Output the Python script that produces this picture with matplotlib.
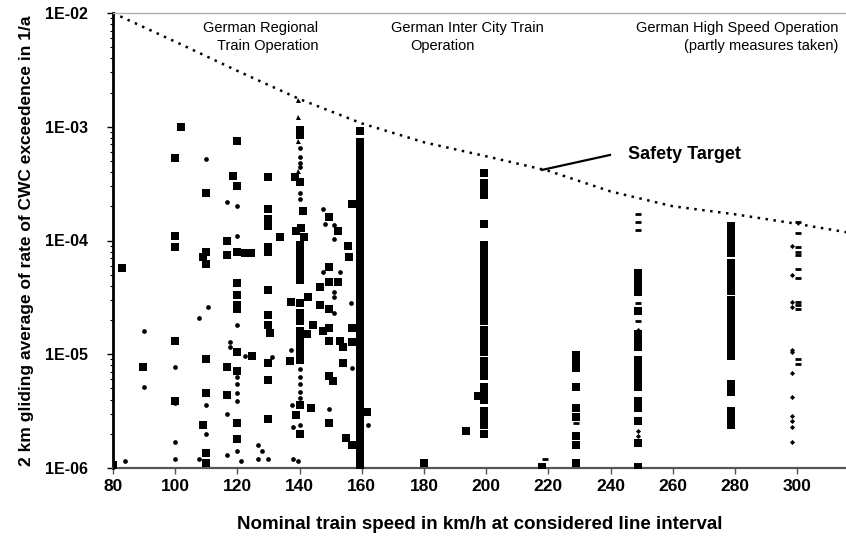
import matplotlib
matplotlib.use("Agg")
import matplotlib.pyplot as plt
from matplotlib import font_manager

# ---------------- data ----------------
target_speed = [80, 100, 120, 140, 160, 180, 200, 220, 240, 260, 280, 300, 316]
target_rate = [1.0e-2, 5.6e-3, 3.1e-3, 1.75e-3, 1.07e-3, 7.3e-4, 5.5e-4, 4.1e-4,
               2.7e-4, 2.0e-4, 1.7e-4, 1.4e-4, 1.18e-4]

# squares (regional lines)
sq_speed = [80, 83, 89.6, 100, 102, 100, 100, 100, 100,
            110, 110, 109, 110, 110, 110, 109, 110, 110,
            120, 118.5, 120, 116.7, 116.7, 120, 122.4, 124.5, 120, 120, 120, 120, 120,
            116.7, 120, 116.7, 120, 120,
            130, 130, 130, 130, 130, 130, 133.7, 130, 130, 130, 130.5, 124.7, 130, 130, 130,
            140, 140, 138.5, 140, 141.1, 138.8, 140.5, 141.5, 140, 140, 140, 140, 140, 140,
            137.2, 142.7, 140, 140, 140, 140, 142.5, 140, 140, 140, 140, 137, 140, 143.7, 139, 140,
            149.5, 152.5, 155.6, 156, 149.5, 146.6, 149.5, 152.5, 146.6, 149.5, 144.3, 147.5,
            149.5, 149.5, 153, 154, 154, 149.5, 150.8, 149.5, 154.8, 156.7, 157, 157, 157, 161.7]
sq_rate = [1.06e-6, 5.7e-5, 7.7e-6, 5.3e-4, 1.0e-3, 1.1e-4, 8.7e-5, 1.3e-5, 3.9e-6,
           2.6e-4, 8.0e-5, 7.2e-5, 6.2e-5, 9.0e-6, 4.6e-6, 2.4e-6, 1.35e-6, 1.1e-6,
           7.5e-4, 3.7e-4, 3.0e-4, 1.0e-4, 7.4e-5, 8.0e-5, 7.7e-5, 7.7e-5, 4.2e-5, 3.35e-5, 2.7e-5, 2.5e-5, 1.04e-5,
           7.7e-6, 7.1e-6, 4.4e-6, 2.5e-6, 1.8e-6,
           3.6e-4, 1.9e-4, 1.55e-4, 1.35e-4, 8.7e-5, 8.0e-5, 1.08e-4, 3.7e-5, 2.2e-5, 1.8e-5, 1.55e-5, 9.6e-6, 8.3e-6, 5.9e-6, 2.7e-6,
           9.4e-4, 8.5e-4, 3.6e-4, 3.3e-4, 1.8e-4, 1.2e-4, 1.3e-4, 1.07e-4, 9.2e-5, 8.0e-5, 6.9e-5, 6.0e-5, 5.2e-5, 4.5e-5,
           2.9e-5, 3.2e-5, 2.85e-5, 2.3e-5, 1.95e-5, 1.6e-5, 1.5e-5, 1.35e-5, 1.17e-5, 1.0e-5, 8.9e-6, 8.7e-6, 3.6e-6, 3.4e-6, 2.95e-6, 2.0e-6,
           1.6e-4, 1.2e-4, 8.9e-5, 7.2e-5, 5.9e-5, 3.9e-5, 4.3e-5, 4.3e-5, 2.7e-5, 2.5e-5, 1.8e-5, 1.6e-5,
           1.7e-5, 1.3e-5, 1.3e-5, 1.15e-5, 8.3e-6, 6.5e-6, 5.8e-6, 2.5e-6, 1.85e-6, 1.6e-6, 2.1e-4, 1.7e-5, 1.28e-5, 3.1e-6]

# dots (regional lines)
dot_speed = [84, 90, 90, 100, 100, 100, 100, 110, 110.5, 107.6, 110, 110, 107.6,
             116.7, 120, 120, 120, 117.5, 117.5, 122.5, 120, 120, 120, 120, 116.7, 116.7, 120, 121,
             131, 126.6, 127.8, 126.6, 130,
             140, 140, 140, 140, 140, 140, 137.2, 140, 140, 140, 140, 140, 137.5, 140, 138, 138, 139.5,
             147.5, 148.3, 151, 151, 147.5, 153, 151, 151, 151, 156.5, 149.5, 162, 157]
dot_rate = [1.15e-6, 1.6e-5, 5.2e-6, 7.7e-6, 3.7e-6, 1.7e-6, 1.2e-6, 5.2e-4, 2.6e-5, 2.1e-5, 3.6e-6, 2.0e-6, 1.2e-6,
            2.2e-4, 2.0e-4, 1.1e-4, 1.8e-5, 1.27e-5, 1.15e-5, 9.6e-6, 6.3e-6, 5.5e-6, 4.6e-6, 3.9e-6, 3.0e-6, 1.3e-6, 1.4e-6, 1.15e-6,
            9.4e-6, 1.6e-6, 1.4e-6, 1.2e-6, 1.2e-6,
            6.5e-4, 5.4e-4, 4.8e-4, 4.4e-4, 2.6e-4, 2.3e-4, 1.08e-5, 7.4e-6, 6.3e-6, 5.5e-6, 4.7e-6, 4.1e-6, 3.6e-6, 2.4e-6, 2.3e-6, 1.2e-6, 1.15e-6,
            1.9e-4, 1.4e-4, 1.38e-4, 1.04e-4, 5.3e-5, 5.3e-5, 3.5e-5, 3.2e-5, 2.3e-5, 2.8e-5, 3.3e-6, 2.4e-6, 7.5e-6]

# triangles (regional lines)
tri_speed = [139.5, 139.5, 139.5, 139.5]
tri_rate = [1.72e-3, 1.22e-3, 7.5e-4, 4.1e-4]

# dense measurement runs (160, 200, 220, 230, 250, 280 km/h)
col_speed = [159.4] * 49 + [199.3] * 31 + [197.5, 218, 180, 193.5] + [228.9] * 9 + [248.8] * 18 + [278.7] * 24
col_rate = [9.2e-4, 7.4e-4, 6.4e-4, 5.6e-4, 4.8e-4, 4.2e-4, 3.6e-4, 3.2e-4, 2.9e-4, 2.6e-4,
            2.3e-4, 2.0e-4, 1.7e-4, 1.5e-4, 1.3e-4, 1.1e-4, 9.8e-5, 8.5e-5, 7.4e-5, 6.4e-5,
            5.6e-5, 4.8e-5, 4.2e-5, 3.6e-5, 3.2e-5, 2.7e-5, 2.3e-5, 2.0e-5, 1.75e-5, 1.5e-5,
            1.3e-5, 1.15e-5, 1.0e-5, 8.7e-6, 7.5e-6, 6.5e-6, 5.7e-6, 4.9e-6, 4.3e-6, 3.7e-6,
            3.2e-6, 2.8e-6, 2.4e-6, 2.1e-6, 1.8e-6, 1.6e-6, 1.4e-6, 1.2e-6, 1.06e-6,
            3.9e-4, 3.2e-4, 2.8e-4, 2.5e-4, 1.4e-4, 9.2e-5, 8.0e-5, 6.9e-5, 6.0e-5, 5.2e-5,
            4.5e-5, 3.9e-5, 3.4e-5, 3.0e-5, 2.6e-5, 2.2e-5, 1.95e-5, 1.65e-5, 1.4e-5, 1.2e-5,
            1.05e-5, 8.7e-6, 7.5e-6, 6.5e-6, 5.2e-6, 4.5e-6, 4.0e-6, 3.2e-6, 2.7e-6, 2.4e-6, 2.0e-6,
            4.3e-6, 1.02e-6, 1.1e-6, 2.1e-6,
            9.8e-6, 8.7e-6, 7.5e-6, 5.2e-6, 3.4e-6, 2.8e-6, 1.9e-6, 1.6e-6, 1.1e-6,
            5.2e-5, 4.5e-5, 3.9e-5, 3.5e-5, 2.4e-5, 1.5e-5, 1.3e-5, 1.15e-5, 8.9e-6, 7.7e-6,
            6.9e-6, 5.9e-6, 5.2e-6, 3.9e-6, 3.4e-6, 2.6e-6, 1.02e-6, 1.65e-6,
            1.33e-4, 1.17e-4, 1.03e-4, 9.0e-5, 7.8e-5, 6.4e-5, 5.6e-5, 4.8e-5, 4.2e-5, 3.6e-5,
            3.0e-5, 2.6e-5, 2.2e-5, 1.95e-5, 1.7e-5, 1.45e-5, 1.25e-5, 1.1e-5, 9.6e-6, 5.5e-6,
            4.7e-6, 3.2e-6, 2.8e-6, 2.4e-6]

# dashes (high speed lines)
dash_speed = [248.8, 248.8, 248.8, 248.8, 248.8, 219,
              300.3, 300.3, 300.3, 300.3, 300.3, 300.3, 300.3, 300.3, 300.3, 300.3, 300.3, 300.3, 228.9]
dash_rate = [1.7e-4, 1.45e-4, 1.24e-4, 2.8e-5, 1.95e-5, 1.2e-6,
             1.45e-4, 1.17e-4, 8.7e-5, 8.0e-5, 7.4e-5, 5.6e-5, 4.7e-5, 2.9e-5, 2.7e-5, 2.5e-5, 9.0e-6, 8.2e-6, 2.5e-6]

# small diamonds (high speed lines)
dia_speed = [298.3] * 12 + [248.8, 248.8, 248.8]
dia_rate = [8.9e-5, 5.0e-5, 2.9e-5, 2.6e-5, 1.1e-5, 6.9e-6, 4.2e-6, 2.85e-6, 2.6e-6, 2.3e-6, 1.7e-6, 1.05e-5,
            1.65e-5, 2.1e-6, 1.9e-6]

x_ticks = [80, 100, 120, 140, 160, 180, 200, 220, 240, 260, 280, 300]
y_ticks = [1e-6, 1e-5, 1e-4, 1e-3, 1e-2]
y_tick_labels = ["1E-06", "1E-05", "1E-04", "1E-03", "1E-02"]

# ---------------- figure ----------------
names = {f.name for f in font_manager.fontManager.ttflist}
narrow = "Liberation Sans Narrow" if "Liberation Sans Narrow" in names else "Liberation Sans"

fig = plt.figure(figsize=(8.46, 5.42), dpi=100)
ax = fig.add_axes([113 / 846, 74 / 542, 733 / 846, 455 / 542])
ax.set_yscale("log")
ax.set_xlim(80, 315.7)
ax.set_ylim(1e-6, 1e-2)

ax.plot(target_speed, target_rate, color="black", lw=1.8, ls=(0, (1, 2.2)), zorder=2, clip_on=False)

ax.plot(sq_speed, sq_rate, ls="none", marker="s", ms=5.2, color="black", mew=0, zorder=3)
ax.plot(col_speed, col_rate, ls="none", marker="s", ms=5.3, color="black", mew=0, zorder=3)
ax.plot(dot_speed, dot_rate, ls="none", marker="o", ms=3.4, color="black", mew=0, zorder=3)
ax.plot(tri_speed, tri_rate, ls="none", marker="^", ms=3.6, color="black", mew=0, zorder=3)
ax.plot(dash_speed, dash_rate, ls="none", marker="_", ms=5, color="black", mew=2, zorder=3)
ax.plot(dia_speed, dia_rate, ls="none", marker="D", ms=2.6, color="black", mew=0, zorder=3)

ax.spines["right"].set_visible(False)
ax.spines["left"].set_linewidth(2.0)
ax.spines["left"].set_color("black")
ax.spines["bottom"].set_linewidth(1.6)
ax.spines["bottom"].set_color("#555555")
ax.spines["top"].set_linewidth(1.0)
ax.spines["top"].set_color("#b0b0b0")

ax.set_xticks(x_ticks)
ax.set_xticklabels([str(v) for v in x_ticks], fontfamily=narrow, fontweight="bold", fontsize=12.5)
ax.set_yticks(y_ticks)
ax.set_yticklabels(y_tick_labels, fontfamily="Liberation Sans", fontweight="bold", fontsize=11.5)
ax.tick_params(axis="x", direction="out", length=4, width=1, color="#555555", pad=4)
ax.tick_params(axis="y", which="major", direction="out", length=4, width=1, pad=14)
ax.tick_params(axis="y", which="minor", direction="out", length=2.5, width=0.8)

ax.set_xlabel("Nominal train speed in km/h at considered line interval",
              fontfamily=narrow, fontweight="bold", fontsize=13.5, labelpad=16)
ax.set_ylabel("2 km gliding average of rate of CWC exceedence in 1/a",
              fontfamily="Liberation Sans", fontweight="bold", fontsize=12.5, labelpad=8)

tkw = dict(transform=ax.transAxes, fontfamily="Liberation Sans", fontsize=10.5, color="black", va="center")
ax.text(0.28, 0.967, "German Regional", ha="right", **tkw)
ax.text(0.28, 0.927, "Train Operation", ha="right", **tkw)
ax.text(0.484, 0.967, "German Inter City Train", ha="center", **tkw)
ax.text(0.449, 0.927, "Operation", ha="center", **tkw)
ax.text(0.989, 0.967, "German High Speed Operation", ha="right", **tkw)
ax.text(0.989, 0.927, "(partly measures taken)", ha="right", **tkw)

ax.text(0.703, 0.688, "Safety Target", transform=ax.transAxes, fontfamily="Liberation Sans",
        fontweight="bold", fontsize=13, va="center", ha="left")
ax.plot([0.585, 0.678], [0.655, 0.688], transform=ax.transAxes, color="black", lw=1.6)

fig.savefig("out.png", dpi=100)
